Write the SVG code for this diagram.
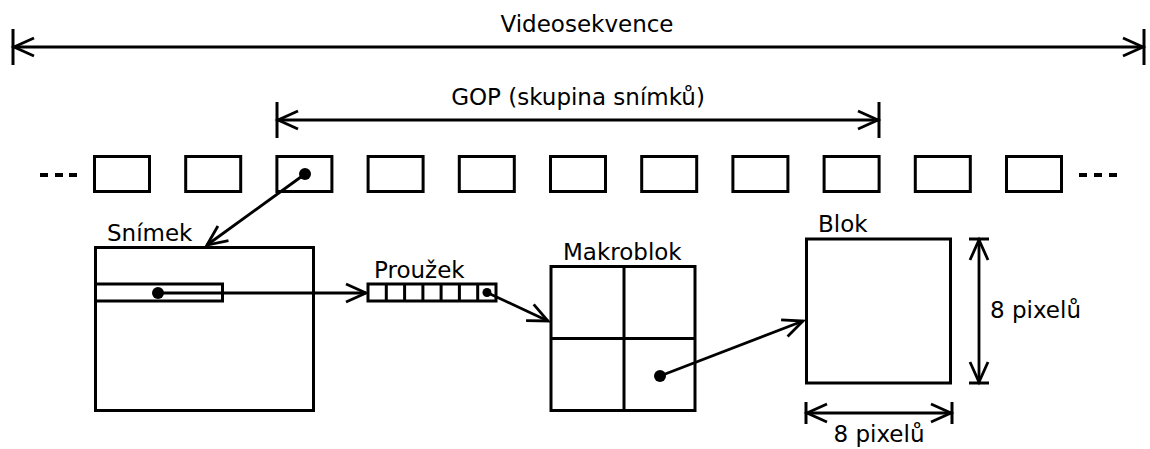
<svg xmlns="http://www.w3.org/2000/svg" width="1150" height="449" viewBox="0 0 1150 449">
<style>
.box{fill:#fff;stroke:#000;stroke-width:3}
.ln{fill:none;stroke:#000;stroke-width:2.8}
.tk{fill:none;stroke:#000;stroke-width:3}
.t{font-family:"DejaVu Sans",sans-serif;font-size:23px;fill:#000}
.dash{stroke:#000;stroke-width:4}
</style>
<defs>
<marker id="ah" markerUnits="userSpaceOnUse" viewBox="-24 -12 28 24" refX="0" refY="0" markerWidth="28" markerHeight="24" orient="auto-start-reverse">
<path d="M-20,-9 L0,0 L-20,9" fill="none" stroke="#000" stroke-width="2.8"/>
</marker>
</defs>
<g id="videosekvence">
<line class="ln" x1="14" y1="47" x2="1143" y2="47" marker-start="url(#ah)" marker-end="url(#ah)"/>
<line class="tk" x1="13" y1="29" x2="13" y2="65"/>
<line class="tk" x1="1144" y1="29" x2="1144" y2="65"/>
<text class="t" x="587" y="32" text-anchor="middle">Videosekvence</text>
</g>
<g id="gop">
<line class="ln" x1="278" y1="120" x2="878" y2="120" marker-start="url(#ah)" marker-end="url(#ah)"/>
<line class="tk" x1="277" y1="102" x2="277" y2="138"/>
<line class="tk" x1="879" y1="102" x2="879" y2="138"/>
<text class="t" x="578" y="105" text-anchor="middle">GOP (skupina snímků)</text>
</g>
<g id="frames">
<line class="dash" x1="40" y1="175" x2="48" y2="175"/>
<line class="dash" x1="55" y1="175" x2="63" y2="175"/>
<line class="dash" x1="69" y1="175" x2="77" y2="175"/>
<rect class="box" x="94.5" y="156.5" width="55" height="35"/>
<rect class="box" x="185.7" y="156.5" width="55" height="35"/>
<rect class="box" x="276.9" y="156.5" width="55" height="35"/>
<rect class="box" x="368.1" y="156.5" width="55" height="35"/>
<rect class="box" x="459.3" y="156.5" width="55" height="35"/>
<rect class="box" x="550.5" y="156.5" width="55" height="35"/>
<rect class="box" x="641.7" y="156.5" width="55" height="35"/>
<rect class="box" x="732.9" y="156.5" width="55" height="35"/>
<rect class="box" x="824.1" y="156.5" width="55" height="35"/>
<rect class="box" x="915.3" y="156.5" width="55" height="35"/>
<rect class="box" x="1006.5" y="156.5" width="55" height="35"/>
<line class="dash" x1="1079" y1="175" x2="1087" y2="175"/>
<line class="dash" x1="1094" y1="175" x2="1102" y2="175"/>
<line class="dash" x1="1109" y1="175" x2="1117" y2="175"/>
<circle cx="305" cy="174" r="6"/>
</g>
<g id="snimek">
<rect class="box" x="95.5" y="247.5" width="218" height="163"/>
<rect class="box" x="95.5" y="284" width="127" height="17"/>
<circle cx="158" cy="293" r="6"/>
<text class="t" x="107" y="241">Snímek</text>
</g>
<g id="prouzek">
<rect class="box" x="368" y="284" width="128" height="17"/>
<path class="tk" d="M386.3,284V301M404.6,284V301M422.9,284V301M441.1,284V301M459.4,284V301M477.7,284V301"/>
<circle cx="487" cy="292.5" r="4.5"/>
<text class="t" x="374" y="278">Proužek</text>
</g>
<g id="makroblok">
<rect class="box" x="551" y="266.5" width="144" height="144"/>
<path class="tk" d="M624,266.5V410.5M551,338.5H695"/>
<circle cx="660" cy="376" r="6"/>
<text class="t" x="563" y="260">Makroblok</text>
</g>
<g id="blok">
<rect class="box" x="806.5" y="239" width="144" height="144"/>
<text class="t" x="818" y="232">Blok</text>
<line class="ln" x1="979" y1="240" x2="979" y2="382" marker-start="url(#ah)" marker-end="url(#ah)"/>
<line class="tk" x1="969" y1="239" x2="989" y2="239"/>
<line class="tk" x1="969" y1="383" x2="989" y2="383"/>
<text class="t" x="990" y="318">8 pixelů</text>
<line class="ln" x1="807" y1="413" x2="951" y2="413" marker-start="url(#ah)" marker-end="url(#ah)"/>
<line class="tk" x1="806" y1="402" x2="806" y2="424"/>
<line class="tk" x1="952" y1="402" x2="952" y2="424"/>
<text class="t" x="879" y="442" text-anchor="middle">8 pixelů</text>
</g>
<g id="connectors">
<line class="ln" x1="305" y1="174" x2="207" y2="245" marker-end="url(#ah)"/>
<line class="ln" x1="158" y1="293" x2="366" y2="293" marker-end="url(#ah)"/>
<line class="ln" x1="487" y1="292.5" x2="548" y2="321" marker-end="url(#ah)"/>
<line class="ln" x1="660" y1="376" x2="803" y2="321" marker-end="url(#ah)"/>
</g>
</svg>
